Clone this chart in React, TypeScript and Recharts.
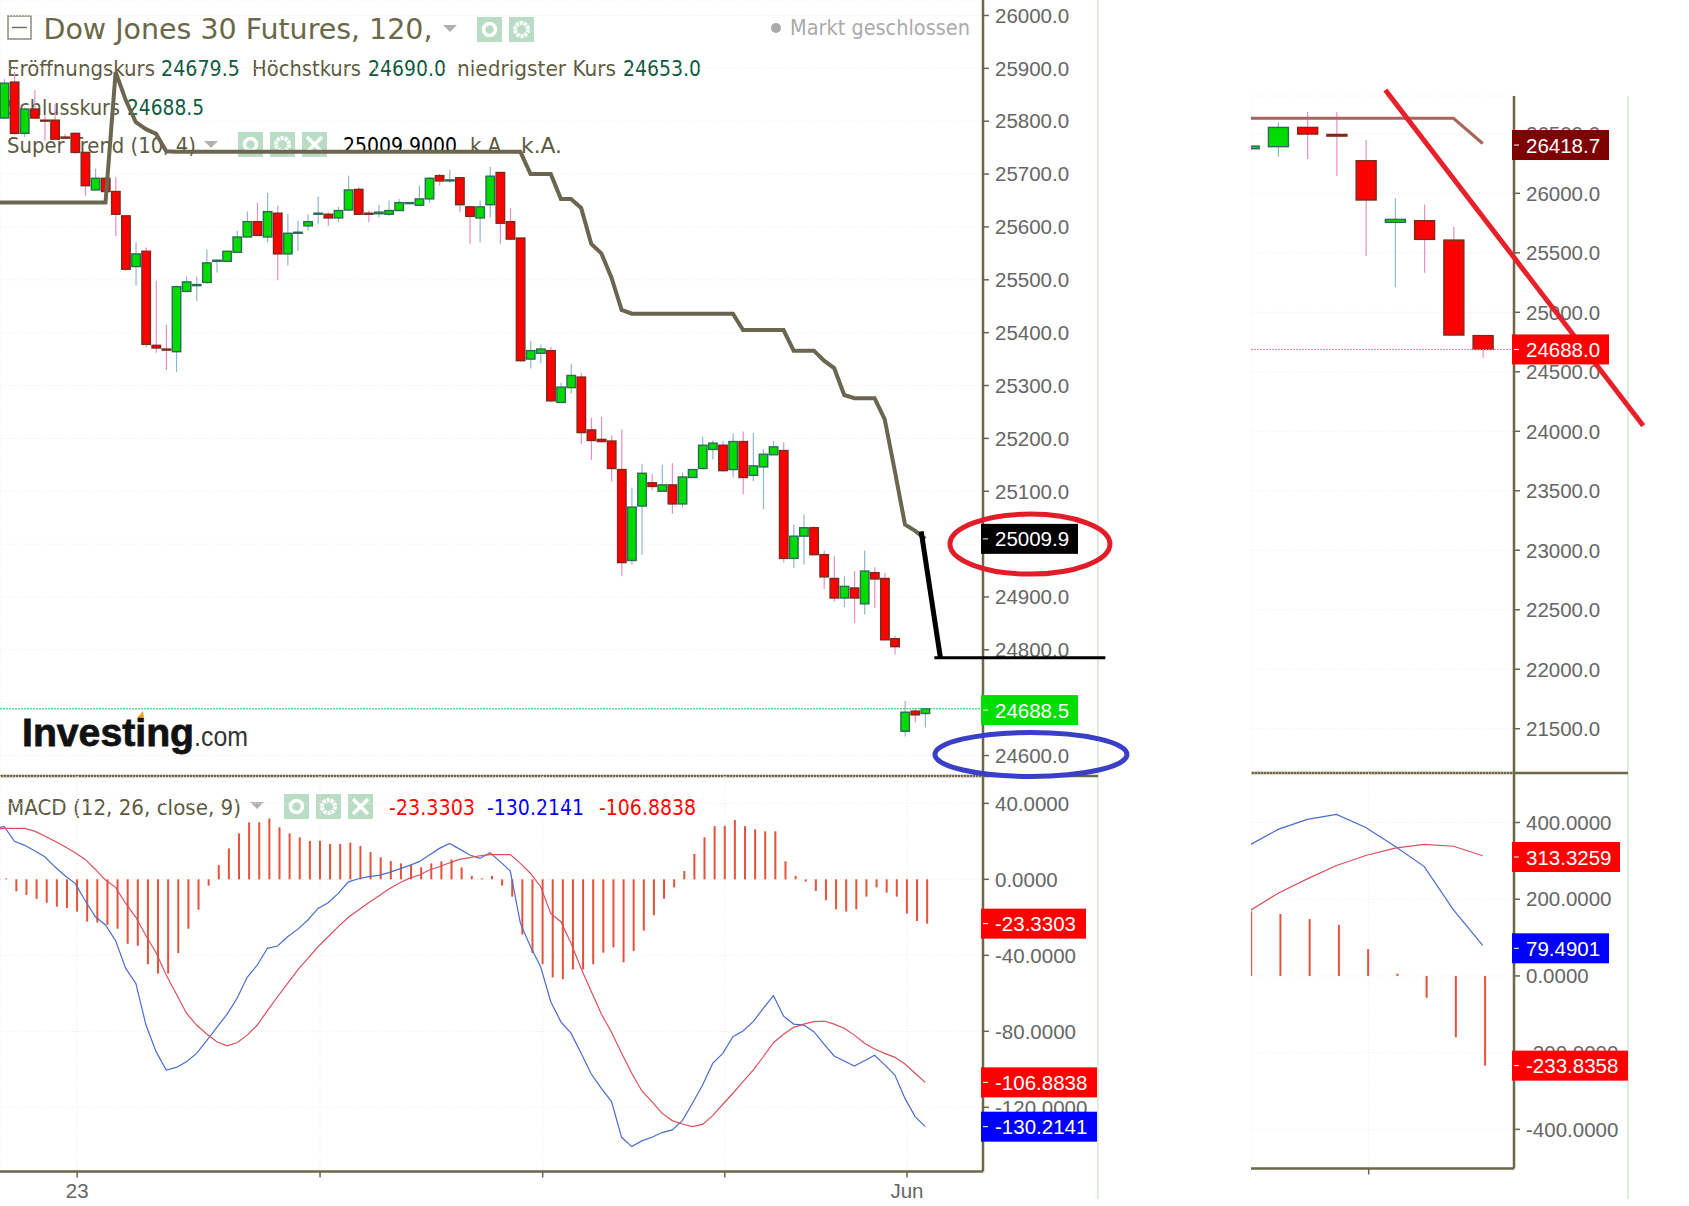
import React from 'react';
import { Bar, CartesianGrid, ComposedChart, Line, ReferenceDot, ReferenceLine, XAxis, YAxis } from 'recharts';

// left pane, 2h candles
const opens = [25806,25874,25777,25823,25802,25802,25770,25777,25741,25670,25692,25667,25621,25525,25554,25376,25369,25364,25478,25489,25495,25535,25535,25552,25581,25610,25581,25626,25549,25588,25602,25624,25624,25617,25632,25671,25626,25625,25624,25631,25645,25641,25653,25697,25687,25693,25638,25617,25642,25703,25610,25579,25350,25361,25366,25268,25296,25316,25216,25198,25195,25141,24969,25072,25116,25100,25112,25076,25126,25143,25179,25187,25141,25194,25130,25146,25169,25177,24973,25015,25031,24980,24935,24898,24917,24887,24946,24935,24821,24646,24684,24679.5];
const closes = [25872,25777,25823,25806,25801,25766,25768,25741,25678,25692,25667,25624,25520,25549,25378,25371,25367,25487,25496,25491,25532,25537,25554,25581,25610,25584,25629,25549,25588,25590,25610,25626,25617,25631,25670,25624,25624,25628,25631,25646,25646,25653,25692,25687,25689,25642,25620,25638,25696,25607,25577,25347,25366,25369,25271,25297,25319,25211,25196,25194,25143,24965,25070,25134,25109,25112,25076,25127,25141,25187,25191,25139,25194,25126,25148,25170,25184,24973,25015,25031,24980,24938,24898,24920,24898,24949,24934,24819,24806,24682,24677,24688.5];
const highs = [25880,25893,25826,25859,25811,25833,25776,25779,25741,25710,25694,25694,25621,25571,25561,25498,25415,25489,25506,25506,25558,25539,25555,25593,25629,25646,25664,25640,25624,25612,25624,25657,25628,25638,25697,25675,25631,25642,25650,25653,25646,25678,25694,25700,25708,25694,25640,25650,25714,25703,25636,25579,25384,25377,25373,25305,25341,25324,25239,25241,25206,25217,25107,25152,25132,25150,25153,25135,25141,25203,25196,25195,25209,25213,25210,25180,25195,25192,25037,25056,25034,24988,24977,24939,24949,24988,24956,24946,24826,24703,24689,24690];
const lows = [25804,25775,25770,25804,25763,25766,25766,25738,25659,25669,25665,25583,25517,25489,25372,25362,25329,25325,25476,25460,25493,25514,25533,25550,25580,25583,25571,25499,25527,25555,25593,25605,25602,25609,25631,25623,25609,25618,25621,25631,25645,25640,25645,25678,25684,25628,25568,25571,25618,25568,25575,25345,25332,25342,25268,25268,25285,25190,25159,25192,25118,24939,24961,24980,25102,25099,25057,25069,25126,25141,25160,25137,25126,25094,25119,25066,25169,24965,24955,24961,24979,24915,24891,24881,24851,24867,24879,24817,24791,24636,24663,24653];
const superTrend = [25646,25646,25646,25646,25646,25646,25646,25646,25646,25646,25646,25893,25840,25798,25785,25776,25743,25742,25742,25742,25742,25742,25742,25742,25742,25742,25742,25742,25742,25742,25742,25742,25742,25742,25742,25742,25742,25742,25742,25742,25742,25742,25742,25742,25742,25742,25742,25742,25742,25742,25742,25742,25700,25700,25700,25653,25653,25636,25568,25550,25504,25443,25436,25436,25436,25436,25436,25436,25436,25436,25436,25436,25436,25405,25405,25405,25405,25405,25366,25366,25366,25347,25333,25282,25276,25276,25276,25236,25138,25037,25025,25009.9];
const histogram = [0.5,-6.3,-8.2,-10.3,-12.3,-14.4,-15.1,-17,-22.3,-22.8,-24,-26,-33.9,-35,-44.7,-49.6,-49.6,-38.8,-26,-16,-3.3,7.5,16.3,24.2,30,30,32,27.4,24.2,22.1,20.2,20.3,18.6,18.6,19.3,17.5,14.4,11.6,9.6,8.4,7.5,6.3,8.4,9.5,10.5,6.3,1.8,0.5,1.8,-3.3,-9.1,-29.1,-38.8,-44.7,-51.6,-52.6,-47.4,-47.4,-44.7,-38.6,-35.8,-43.7,-37.7,-27,-18.9,-10.2,-4.2,4.4,13.3,22.1,28,28.2,31.2,28,26.3,25.3,25.3,9.5,1.8,-1.2,-6.1,-11,-15.8,-17,-15.8,-9.1,-4.2,-7,-9.1,-18,-21.9,-23.3];
const macdLine = [27.7,20,17.9,15.1,11.9,6.6,1.9,-2.1,-11.3,-19.7,-24,-32.3,-46.9,-54.8,-76.7,-90.7,-100.4,-99,-96,-91.6,-84.9,-77.9,-71.1,-62.6,-51.6,-45.1,-36.3,-35.1,-30.2,-26.2,-21.4,-15.3,-12.3,-7.4,-1.3,0.3,1.4,2.1,3.5,5.4,7.2,9.3,12.8,16.3,18.9,15.9,12.8,11,14,9.3,4.3,-23.2,-35.5,-46,-64.4,-75,-81,-91.6,-102.5,-110,-117,-135.8,-140.7,-137.7,-135.8,-133.3,-131.9,-127,-117.9,-108.3,-96.9,-91.6,-82.8,-79.8,-74.9,-67.9,-61.2,-72,-76.2,-76.7,-80.2,-86.7,-93,-95.6,-98.3,-95.5,-92.6,-97.7,-103,-115.3,-124.9,-130.2];
const signalLine = [26.8,26.8,26.8,25.4,22.8,20.1,17.2,14,10.5,5.2,-0.4,-4.2,-12.7,-20,-29.7,-38.6,-50.4,-60.4,-70.5,-76.7,-81.4,-85.5,-87.6,-86,-82,-76.7,-69.1,-61.8,-54.8,-47.7,-41.6,-35.5,-30.2,-24.9,-20,-16.2,-12.3,-8.8,-5.1,-2.1,0.5,2.3,4.9,6.6,8.7,10.5,11.4,12.4,13,13,13,8.4,3.1,-3.9,-17.9,-22.3,-33.7,-46.9,-59.1,-70.9,-80.5,-91.6,-102.1,-111.4,-117,-123.2,-127,-128.8,-130.2,-129,-124.4,-118.4,-112.6,-106.5,-100.4,-93.4,-86,-81.6,-77.9,-76.2,-74.9,-74.6,-76.2,-78.4,-82,-86.3,-89.3,-91.6,-93.7,-97.2,-102.1,-106.9];
// the lines come in from off-screen on the left
const leadIn = { i: -1, trend: 25646, macd: 26.8, signal: 26.3 };

// right pane, daily candles
const opensR = [26375,26392,26554,26495,26274,25756,25770,25607,24804];
const closesR = [26397,26554,26498,26481,25944,25781,25613,24809,24688];
const highsR = [26397,26593,26683,26683,26448,25958,25907,25720,24804];
const lowsR = [26375,26308,26288,26145,25473,25215,25333,24800,24619];
const superTrendR = [26630,26630,26630,26630,26630,26630,26630,26630,26418.7];
const histogramR = [168,161.4,148,133,70,6,-57,-160,-233.8];
const macdLineR = [340,382,408,421,387,338,285,172,79.5];
const signalLineR = [168.4,215.5,253,288,314,333,343,338,313.3];

const priceTicks = [26000,25900,25800,25700,25600,25500,25400,25300,25200,25100,25000,24900,24800,24700,24600];
const macdTicks = [40,0,-40,-80,-120];
const priceTicksR = [26500,26000,25500,25000,24500,24000,23500,23000,22500,22000,21500];
const macdTicksR = [400,200,0,-200,-400];
const timeTicks = [7.2,31.2,53.2,71.2,89.2];
const timeLabels: Record<number, string> = { 7.2: '23', 89.2: 'Jun' };
const timeTicksR = [4.1];

const leftData = [leadIn, ...opens.map((open, i) => ({
  i, open, close: closes[i], high: highs[i], low: lows[i], range: [lows[i], highs[i]],
  trend: superTrend[i], hist: histogram[i], macd: macdLine[i], signal: signalLine[i],
}))];
const rightData = opensR.map((open, i) => ({
  i, open, close: closesR[i], high: highsR[i], low: lowsR[i], range: [lowsR[i], highsR[i]],
  trend: superTrendR[i], hist: histogramR[i], macd: macdLineR[i], signal: signalLineR[i],
}));

const AXIS = '#6b6748';
const SANS = "'Liberation Sans', Arial, sans-serif";
const TAHOMA = "'DejaVu Sans Condensed', 'DejaVu Sans', sans-serif";
const LEFT_X: [number, number] = [-0.425, 96.71];
const RIGHT_X: [number, number] = [0.075, 9.07];
const tickStyle = { fill: '#666', fontSize: 20.5, fontFamily: SANS };

const Candle = (props: any) => {
  const { x, y, width, height, payload } = props;
  if (!payload.range) return null;
  const k = height / (payload.high - payload.low || 1);
  const yOf = (p: number) => y + (payload.high - p) * k;
  const up = payload.close >= payload.open;
  const top = yOf(Math.max(payload.open, payload.close));
  const bottom = yOf(Math.min(payload.open, payload.close));
  return (
    <g>
      <line x1={x + width / 2} x2={x + width / 2} y1={y} y2={y + height} stroke={up ? '#8fb8d0' : '#e68fc4'} strokeWidth={1.2} />
      <rect x={x} y={top} width={width} height={Math.max(bottom - top, 1)} fill={up ? '#00dc00' : '#ff0000'} stroke={up ? '#2f6a58' : '#7a2b1c'} strokeWidth={1.4} />
    </g>
  );
};

const HistBar = (props: any) => {
  const { x, y, width, height, payload } = props;
  if (payload.hist == null) return null;
  return <rect x={x + 2} y={height < 0 ? y + height : y} width={width} height={Math.abs(height)} fill="#e4523b" />;
};

const tag = (text: string, fill: string, width: number) => (props: any) => (
  <g>
    <rect x={props.cx - 2} y={props.cy - 15} width={width} height={30} fill={fill} />
    <line x1={props.cx} x2={props.cx + 5} y1={props.cy} y2={props.cy} stroke="#fff" strokeWidth={1} />
    <text x={props.cx + 12} y={props.cy + 7.5} fill="#fff" fontSize={20.5} fontFamily={SANS}>{text}</text>
  </g>
);

const ring = (rx: number, ry: number, stroke: string) => (props: any) => (
  <ellipse cx={props.cx} cy={props.cy} rx={rx} ry={ry} fill="none" stroke={stroke} strokeWidth={5} />
);

const T = ({ x, y, w, c, s = 21, children }: any) => (
  <text x={x} y={y} fill={c} fontSize={s} fontFamily={TAHOMA} textLength={w} lengthAdjust="spacingAndGlyphs">{children}</text>
);

const Icon = ({ x, y, glyph }: { x: number; y: number; glyph: string }) => (
  <g>
    <rect x={x} y={y} width={25} height={25} fill="#b9dcc5" />
    {glyph === 'eye' && <circle cx={x + 12.5} cy={y + 12.5} r={6} fill="none" stroke="#fff" strokeWidth={3.5} />}
    {glyph === 'gear' && <circle cx={x + 12.5} cy={y + 12.5} r={6.5} fill="none" stroke="#fff" strokeWidth={4} strokeDasharray="3 1" />}
    {glyph === 'x' && <path d={`M${x + 5} ${y + 5}L${x + 20} ${y + 20}M${x + 20} ${y + 5}L${x + 5} ${y + 20}`} stroke="#fff" strokeWidth={3.5} />}
  </g>
);

const Caret = ({ x, y }: { x: number; y: number }) => <path d={`M${x - 7} ${y - 3}h14l-7 7z`} fill="#b5afb0" />;

const Backdrop = () => (
  <svg width={1689} height={1206} style={{ position: 'absolute', left: 0, top: 0 }}>
    <rect x={8} y={16} width={23} height={23} fill="none" stroke="#8a8a7a" strokeWidth={1.5} />
    <line x1={12} x2={27} y1={27.5} y2={27.5} stroke="#77735a" strokeWidth={1.5} />
    <T x={43.5} y={38.5} w={389} c="#6b6748" s={29}>Dow Jones 30 Futures, 120,</T>
    <Caret x={450} y={28} />
    <Icon x={477} y={17} glyph="eye" />
    <Icon x={509} y={17} glyph="gear" />
    <circle cx={776} cy={28} r={5} fill="#aaa" />
    <T x={790} y={35} w={180} c="#aaa">Markt geschlossen</T>

    <T x={7} y={76} w={148} c="#5d5a42">Eröffnungskurs</T>
    <T x={161} y={76} w={79} c="#0e5a40">24679.5</T>
    <T x={252} y={76} w={109} c="#5d5a42">Höchstkurs</T>
    <T x={368} y={76} w={78} c="#0e5a40">24690.0</T>
    <T x={457} y={76} w={159} c="#5d5a42">niedrigster Kurs</T>
    <T x={623} y={76} w={78} c="#0e5a40">24653.0</T>
    <T x={7} y={115} w={113} c="#5d5a42">Schlusskurs</T>
    <T x={127} y={115} w={77} c="#0e5a40">24688.5</T>
    <T x={7} y={153} w={189} c="#5d5a42">Super Trend (10, 4)</T>
    <Caret x={211} y={144} />
    <Icon x={238} y={132} glyph="eye" />
    <Icon x={270} y={132} glyph="gear" />
    <Icon x={302} y={132} glyph="x" />
    <T x={343} y={153} w={114} c="#000">25009.9000</T>
    <T x={470} y={153} w={37} c="#5d5a42">k.A.</T>
    <T x={521} y={153} w={41} c="#5d5a42">k.A.</T>

    <text x={22} y={746} fontSize={39} fontWeight={700} fontFamily={SANS} fill="#111" stroke="#111" strokeWidth={0.8} textLength={172} lengthAdjust="spacingAndGlyphs">Investing</text>
    <text x={194} y={746} fontSize={28} fontFamily={SANS} fill="#333" textLength={54} lengthAdjust="spacingAndGlyphs">.com</text>
    <path d="M138 717l5-6 1 7z" fill="#f0a020" />

    <T x={7} y={815} w={234} c="#5d5a42">MACD (12, 26, close, 9)</T>
    <Caret x={257} y={805} />
    <Icon x={284} y={794} glyph="eye" />
    <Icon x={316} y={794} glyph="gear" />
    <Icon x={348} y={794} glyph="x" />
    <T x={389} y={815} w={86} c="#f00">-23.3303</T>
    <T x={487} y={815} w={97} c="#00f">-130.2141</T>
    <T x={599} y={815} w={97} c="#f00">-106.8838</T>

    <line x1={1098} x2={1098} y1={0} y2={1199} stroke="#d5e8d0" strokeWidth={1.5} />
    <line x1={1628} x2={1628} y1={96} y2={1199} stroke="#d5e8d0" strokeWidth={1.5} />
    <line x1={0} x2={1098} y1={776} y2={776} stroke={AXIS} strokeWidth={2.5} />
    <line x1={1251} x2={1628} y1={773} y2={773} stroke={AXIS} strokeWidth={2.5} />
  </svg>
);

// a second transparent chart on the same scales holds the tags and hand-drawn marks,
// because those must sit above the axis labels
const Pane = ({ data, left, top, width, height, margin, xDomain, xTicks, yDomain, yTicks, yFormat, timeHeight = 0, overlay, children }: any) => (
  <>
    <div style={{ position: 'absolute', left, top }}>
      <ComposedChart data={data} width={width} height={height} margin={margin}>
        <CartesianGrid stroke="#f8e8d8" strokeDasharray="1 2" />
        <XAxis
          type="number"
          dataKey="i"
          domain={xDomain}
          ticks={xTicks}
          allowDataOverflow
          interval={0}
          height={timeHeight}
          axisLine={timeHeight ? { stroke: AXIS, strokeWidth: 2.5 } : false}
          tickLine={timeHeight ? { stroke: AXIS, strokeWidth: 1.5 } : false}
          tick={timeHeight ? tickStyle : false}
          tickSize={6}
          tickMargin={6}
          tickFormatter={(v: number) => timeLabels[v] ?? ''}
        />
        <YAxis
          type="number"
          orientation="right"
          domain={yDomain}
          ticks={yTicks}
          allowDataOverflow
          interval={0}
          width={margin.axis}
          axisLine={{ stroke: AXIS, strokeWidth: 2.5 }}
          tickLine={{ stroke: AXIS, strokeWidth: 1.5 }}
          tick={tickStyle}
          tickSize={6}
          tickMargin={6}
          tickFormatter={yFormat}
        />
        {children}
      </ComposedChart>
    </div>
    <div style={{ position: 'absolute', left, top }}>
      <ComposedChart
        data={data}
        width={width}
        height={height}
        margin={{ top: margin.top, left: margin.left, right: margin.right + margin.axis, bottom: margin.bottom + timeHeight }}
      >
        <XAxis type="number" dataKey="i" domain={xDomain} allowDataOverflow hide />
        <YAxis type="number" domain={yDomain} allowDataOverflow hide />
        {overlay}
      </ComposedChart>
    </div>
  </>
);

const price1 = (v: number) => v.toFixed(1);
const macd4 = (v: number) => v.toFixed(4);

export default function App() {
  return (
    <div style={{ position: 'absolute', left: 0, top: 0, width: 1689, height: 1206, background: '#fff', overflow: 'hidden' }}>
      <Backdrop />

      <Pane
        data={leftData}
        left={0}
        top={0}
        width={1200}
        height={790}
        margin={{ top: 0, right: 100, bottom: 14, left: 0, axis: 117 }}
        xDomain={LEFT_X}
        xTicks={timeTicks}
        yDomain={[24561.3, 26029.3]}
        yTicks={priceTicks}
        yFormat={price1}
        overlay={[
          <ReferenceDot key="t1" x={96.71} y={25009.9} ifOverflow="visible" shape={tag('25009.9', '#000', 97)} />,
          <ReferenceDot key="t2" x={96.71} y={24686} ifOverflow="visible" shape={tag('24688.5', '#00dd00', 97)} />,
          <ReferenceDot key="r1" x={101.35} y={25000} ifOverflow="visible" shape={ring(80, 30, '#e21d2a')} />,
          <ReferenceDot key="r2" x={101.45} y={24602} ifOverflow="visible" shape={ring(96, 22, '#3a3fc8')} />,
          <ReferenceLine key="s1" segment={[{ x: 90.6, y: 25024 }, { x: 92.5, y: 24785 }]} ifOverflow="visible" stroke="#000" strokeWidth={5} />,
          <ReferenceLine key="s2" segment={[{ x: 91.9, y: 24785 }, { x: 108.8, y: 24785 }]} ifOverflow="visible" stroke="#000" strokeWidth={3} />,
        ]}
      >
        <ReferenceLine y={24688.5} stroke="#22c55e" strokeDasharray="2 1" />
        <Bar dataKey="range" barSize={8.5} shape={Candle} isAnimationActive={false} />
        <Line dataKey="trend" type="linear" stroke="#6a6650" strokeWidth={4} dot={false} isAnimationActive={false} />
      </Pane>

      <Pane
        data={leftData}
        left={0}
        top={776}
        width={1200}
        height={430}
        margin={{ top: 0, right: 100, bottom: 0, left: 0, axis: 117 }}
        xDomain={LEFT_X}
        xTicks={timeTicks}
        yDomain={[-153.8, 54.4]}
        yTicks={macdTicks}
        yFormat={macd4}
        timeHeight={34.5}
        overlay={[
          <ReferenceDot key="t1" x={96.71} y={-23.33} ifOverflow="visible" shape={tag('-23.3303', '#ff0000', 105)} />,
          <ReferenceDot key="t2" x={96.71} y={-106.88} ifOverflow="visible" shape={tag('-106.8838', '#ff0000', 116)} />,
          <ReferenceDot key="t3" x={96.71} y={-130.21} ifOverflow="visible" shape={tag('-130.2141', '#0000ff', 116)} />,
        ]}
      >
        <Bar dataKey="hist" barSize={2} shape={HistBar} isAnimationActive={false} />
        <Line dataKey="macd" type="linear" stroke="#4a6ccc" strokeWidth={1.2} dot={false} isAnimationActive={false} />
        <Line dataKey="signal" type="linear" stroke="#d8505e" strokeWidth={1.2} dot={false} isAnimationActive={false} />
      </Pane>

      <Pane
        data={rightData}
        left={1251}
        top={0}
        width={438}
        height={773}
        margin={{ top: 96, right: 58, bottom: 0, left: 0, axis: 117 }}
        xDomain={RIGHT_X}
        xTicks={timeTicksR}
        yDomain={[21128, 26818]}
        yTicks={priceTicksR}
        yFormat={price1}
        overlay={[
          <ReferenceDot key="t1" x={9.07} y={26406} ifOverflow="visible" shape={tag('26418.7', '#7f0000', 97)} />,
          <ReferenceDot key="t2" x={9.07} y={24688} ifOverflow="visible" shape={tag('24688.0', '#ff0000', 97)} />,
          <ReferenceLine key="s1" segment={[{ x: 4.67, y: 26868 }, { x: 13.49, y: 24047 }]} ifOverflow="visible" stroke="#e8202a" strokeWidth={5} />,
        ]}
      >
        <ReferenceLine y={24688} stroke="#e080b0" strokeDasharray="2 1" />
        <Bar dataKey="range" barSize={20} shape={Candle} isAnimationActive={false} />
        <Line dataKey="trend" type="linear" stroke="#a8645a" strokeWidth={3} dot={false} isAnimationActive={false} />
      </Pane>

      <Pane
        data={rightData}
        left={1251}
        top={773}
        width={438}
        height={432}
        margin={{ top: 0, right: 58, bottom: 0, left: 0, axis: 117 }}
        xDomain={RIGHT_X}
        xTicks={timeTicksR}
        yDomain={[-502, 529]}
        yTicks={macdTicksR}
        yFormat={macd4}
        timeHeight={36.5}
        overlay={[
          <ReferenceDot key="t1" x={9.07} y={310} ifOverflow="visible" shape={tag('313.3259', '#ff0000', 108)} />,
          <ReferenceDot key="t2" x={9.07} y={72} ifOverflow="visible" shape={tag('79.4901', '#0000ff', 97)} />,
          <ReferenceDot key="t3" x={9.07} y={-233.84} ifOverflow="visible" shape={tag('-233.8358', '#ff0000', 116)} />,
        ]}
      >
        <Bar dataKey="hist" barSize={2} shape={HistBar} isAnimationActive={false} />
        <Line dataKey="macd" type="linear" stroke="#4a6ccc" strokeWidth={1.2} dot={false} isAnimationActive={false} />
        <Line dataKey="signal" type="linear" stroke="#d8505e" strokeWidth={1.2} dot={false} isAnimationActive={false} />
      </Pane>
    </div>
  );
}
